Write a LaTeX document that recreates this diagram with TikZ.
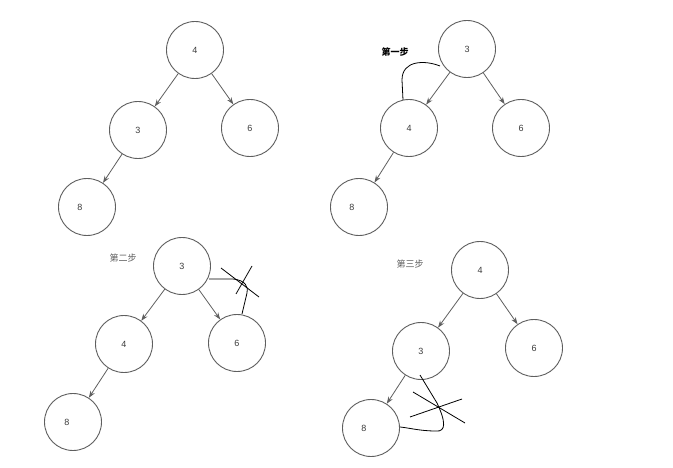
\documentclass[tikz,border=0pt]{standalone}
\usepackage{fontspec}
\setmainfont{Liberation Sans}
\newfontfamily\cjk{Noto Sans CJK SC}
\usetikzlibrary{arrows.meta}
\definecolor{edgegray}{RGB}{95,95,95}
\definecolor{numcol}{RGB}{60,60,60}
\definecolor{stepgray}{RGB}{90,90,90}
\tikzset{
  tnode/.style={circle,draw=edgegray,line width=0.9pt,minimum size=57pt,inner sep=0pt,font=\fontsize{9}{10}\selectfont,text=numcol},
  tarrow/.style={draw=edgegray,line width=0.8pt,-{Stealth[length=7pt,width=5pt]}},
  hand/.style={draw=black,line width=0.8pt},
  steplbl/.style={font=\cjk\fontsize{9}{10}\selectfont,inner sep=0pt}
}
\begin{document}
\begin{tikzpicture}[x=1pt,y=-1pt]
\useasboundingbox[fill=white] (0,0) rectangle (673,468);
% Tree 1
\node[tnode] (a1) at (195,50) {4};
\node[tnode] (a2) at (138,130) {3};
\node[tnode] (a3) at (250,128) {6};
\node[tnode,label={[xshift=-7pt,font=\fontsize{9}{10}\selectfont,text=numcol]center:8}] (a4) at (87,207) {};
\draw[tarrow] (a1) -- (a2);
\draw[tarrow] (a1) -- (a3);
\draw[tarrow] (a2) -- (a4);
% Tree 2
\node[steplbl,font=\cjk\bfseries\fontsize{9}{10}\selectfont] (s1) at (395,52) {第一步};
\node[tnode] (b1) at (467,49) {3};
\node[tnode] (b2) at (409,128) {4};
\node[tnode] (b3) at (521,128) {6};
\node[tnode,label={[xshift=-7pt,font=\fontsize{9}{10}\selectfont,text=numcol]center:8}] (b4) at (359,207) {};
\draw[tarrow] (b1) -- (b2);
\draw[tarrow] (b1) -- (b3);
\draw[tarrow] (b2) -- (b4);
\coordinate (c1s) at (440,66);
\coordinate (c1e) at (403,100);
\draw[hand] (c1s) .. controls (425,60) and (402,60) .. (402,80) -- (c1e);
% Tree 3
\node[steplbl,text=stepgray] (s2) at (123,258) {第二步};
\node[tnode] (d1) at (182,266) {3};
\node[tnode] (d2) at (124,344) {4};
\node[tnode] (d3) at (237,343) {6};
\node[tnode,label={[xshift=-6pt,font=\fontsize{9}{10}\selectfont,text=numcol]center:8}] (d4) at (73,422) {};
\draw[tarrow] (d1) -- (d2);
\draw[tarrow] (d1) -- (d3);
\draw[tarrow] (d2) -- (d4);
\coordinate (c2s) at (209,279);
\coordinate (c2e) at (242,314);
\draw[hand] (c2s) -- (233,279) .. controls (245,280) and (249,287) .. (247,293) -- (c2e);
\coordinate (x1a) at (221,268); \coordinate (x1b) at (259,297);
\coordinate (x2a) at (252,266); \coordinate (x2b) at (236,294);
\draw[hand] (x1a) -- (x1b);
\draw[hand] (x2a) -- (x2b);
% Tree 4
\node[steplbl,text=stepgray] (s3) at (410,264) {第三步};
\node[tnode] (e1) at (480,270) {4};
\node[tnode] (e2) at (421,351) {3};
\node[tnode] (e3) at (534,348) {6};
\node[tnode,label={[xshift=-7pt,font=\fontsize{9}{10}\selectfont,text=numcol]center:8}] (e4) at (371,428) {};
\draw[tarrow] (e1) -- (e2);
\draw[tarrow] (e1) -- (e3);
\draw[tarrow] (e2) -- (e4);
\coordinate (c3s) at (420,375);
\coordinate (c3e) at (400,427);
\draw[hand] (c3s) -- (437,403) .. controls (446,422) and (446,432) .. (436,431) .. controls (420,431) and (410,428) .. (c3e);
\coordinate (y1a) at (413,392); \coordinate (y1b) at (465,423);
\coordinate (y2a) at (410,417); \coordinate (y2b) at (462,399);
\draw[hand] (y1a) -- (y1b);
\draw[hand] (y2a) -- (y2b);
\end{tikzpicture}
\end{document}
